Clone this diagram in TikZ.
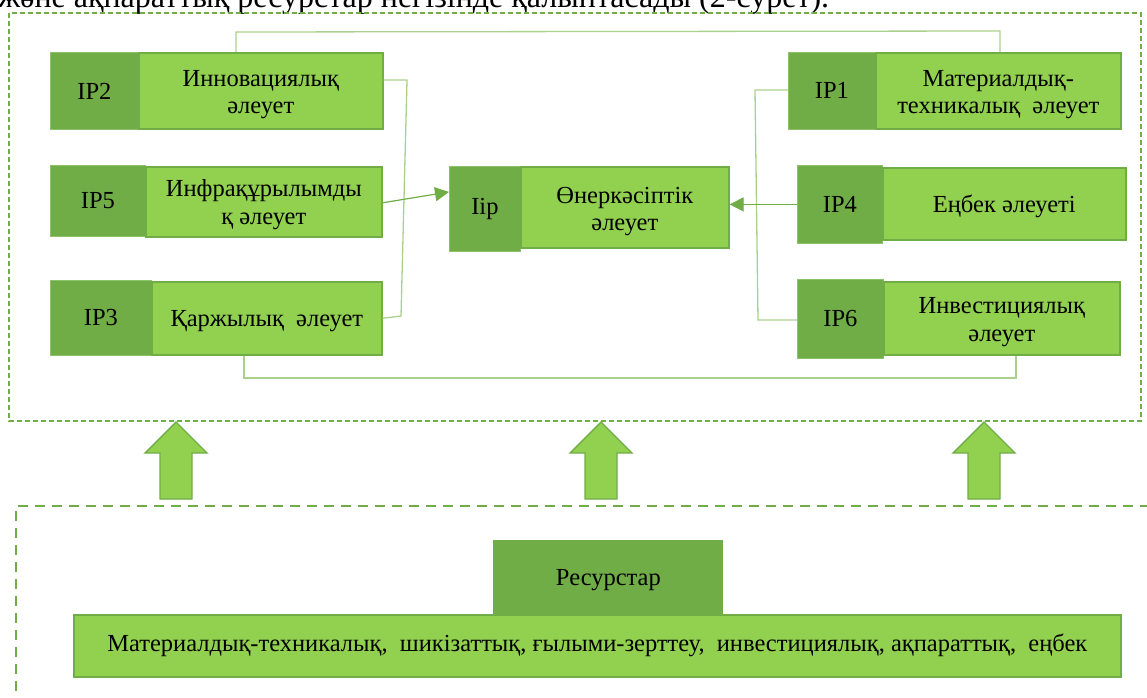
\documentclass[tikz,border=0pt]{standalone}
\usepackage{fontspec}
\setmainfont{Liberation Serif}
\usetikzlibrary{arrows.meta}
\definecolor{dkg}{HTML}{70AD47}
\definecolor{ltg}{HTML}{92D050}
\definecolor{lng}{HTML}{A9D18E}
\definecolor{bdk}{HTML}{8CC26A}
\begin{document}
\begin{tikzpicture}[x=1pt,y=-1pt,
  font=\fontsize{24.5}{27.5}\selectfont,
  dkbox/.style={draw=bdk, line width=0.8pt, fill=dkg, anchor=north west, inner sep=0pt},
  ltbox/.style={draw=dkg, line width=1.6pt, fill=ltg, anchor=north west, inner sep=0pt},
  lbl/.style={align=center, inner sep=0pt},
  conn/.style={draw=lng, line width=1.3pt},
  arr/.style={draw=dkg, line width=1.2pt, -{Triangle[length=14pt,width=14pt]}},
  bigarrow/.style={draw=dkg, line width=1.4pt, fill=ltg, line join=miter},
  dashA/.style={draw=dkg, line width=1.6pt, dash pattern=on 5pt off 3pt},
  dashB/.style={draw=dkg, line width=1.6pt, dash pattern=on 10pt off 7pt}]
\useasboundingbox (0,0) rectangle (1147,697);

% caption line cut at the top
\node[anchor=base west, font=\fontsize{32}{36}\selectfont, inner sep=0pt] (cap) at (-2,7) {жəне ақпараттық ресурстар негізінде қалыптасады (2-сурет).};

% dashed frames
\draw[dashA] (9,13) rectangle (1141,421);
\draw[dashB] (1150,506) -- (16,506) -- (16,705);

% left column
\node[dkbox, minimum width=88pt, minimum height=77pt] (ip2d) at (50,52) {};
\node[ltbox, minimum width=244pt, minimum height=76pt] (ip2l) at (138,52) {};
\node[lbl] (ip2n) at (ip2d.center) {IP2};
\node[lbl] (ip2t) at ([yshift=-4pt]ip2l.center) {Инновациялық\\әлеует};

\node[dkbox, minimum width=95pt, minimum height=71pt] (ip5d) at (50,165) {};
\node[ltbox, minimum width=236pt, minimum height=70pt] (ip5l) at (145,166) {};
\node[lbl] (ip5n) at (ip5d.center) {IP5};
\node[lbl] (ip5t) at ([yshift=-3pt]ip5l.center) {Инфрақұрылымды\\қ әлеует};

\node[dkbox, minimum width=101pt, minimum height=75pt] (ip3d) at (50,280) {};
\node[ltbox, minimum width=230pt, minimum height=73pt] (ip3l) at (151,281) {};
\node[lbl] (ip3n) at (ip3d.center) {IP3};
\node[lbl] (ip3t) at ([yshift=-3pt]ip3l.center) {Қаржылық\ \ әлеует};

% centre
\node[dkbox, minimum width=71pt, minimum height=85pt] (iipd) at (449,166) {};
\node[ltbox, minimum width=208pt, minimum height=81pt] (iipl) at (520,166) {};
\node[lbl] (iipn) at (iipd.center) {Iip};
\node[lbl] (iipt) at ([yshift=-4pt]iipl.center) {Өнеркәсіптік\\әлеует};

% right column
\node[dkbox, minimum width=87pt, minimum height=77pt] (ip1d) at (788,52) {};
\node[ltbox, minimum width=245pt, minimum height=76pt] (ip1l) at (875,52) {};
\node[lbl] (ip1n) at (ip1d.center) {IP1};
\node[lbl] (ip1t) at ([yshift=-4pt]ip1l.center) {Материалдық-\\техникалық\ \ әлеует};

\node[dkbox, minimum width=85pt, minimum height=78pt] (ip4d) at (797,165) {};
\node[ltbox, minimum width=243pt, minimum height=72pt] (ip4l) at (882,167) {};
\node[lbl] (ip4n) at (ip4d.center) {IP4};
\node[lbl] (ip4t) at ([yshift=-3pt]ip4l.center) {Еңбек әлеуеті};

\node[dkbox, minimum width=86pt, minimum height=79pt] (ip6d) at (797,279) {};
\node[ltbox, minimum width=236pt, minimum height=73pt] (ip6l) at (883,281) {};
\node[lbl] (ip6n) at (ip6d.center) {IP6};
\node[lbl] (ip6t) at ([yshift=-4pt]ip6l.center) {Инвестициялық\\әлеует};

% connectors
\coordinate (t1) at (236,32);
\coordinate (t2) at (1000,31);
\draw[conn] (ip2l.north -| t1) -- (t1) -- (t2) -- (ip1l.north -| t2);

\coordinate (r1) at (407,80);
\coordinate (r2) at (401,316);
\draw[conn] (ip2l.east |- r1) -- (r1) -- (r2) -- (ip3l.east);

\coordinate (q1) at (755,90);
\coordinate (q2) at (758,320);
\draw[conn] (ip1d.west |- q1) -- (q1) -- (q2) -- (ip6d.west |- q2);

\coordinate (b1) at (244,378);
\coordinate (b2) at (1016,378);
\draw[conn] (ip3l.south -| b1) -- (b1) -- (b2) -- (ip6l.south -| b2);

\draw[arr] ([yshift=-1pt]ip5l.east) -- ([yshift=17pt]iipd.west);
\draw[arr] (ip4d.west) -- (iipl.east |- ip4d.west);

% big up arrows
\foreach \cx in {176,601,984}{
  \draw[bigarrow] (\cx,422) -- (\cx+31,453) -- (\cx+16,453) -- (\cx+16,499)
    -- (\cx-16,499) -- (\cx-16,453) -- (\cx-31,453) -- cycle;
}

% resources
\node[dkbox, draw=none, minimum width=230pt, minimum height=75pt] (res) at (493,540) {};
\node[lbl] (rest) at ([yshift=-2pt]res.center) {Ресурстар};
\node[ltbox, minimum width=1047pt, minimum height=62pt] (resl) at (73,614) {};
\node[lbl] (reslt) at (resl.center) {Материалдық-техникалық,\ \ шикізаттық, ғылыми-зерттеу,\ \ инвестициялық, ақпараттық,\ \ еңбек};
\end{tikzpicture}
\end{document}
